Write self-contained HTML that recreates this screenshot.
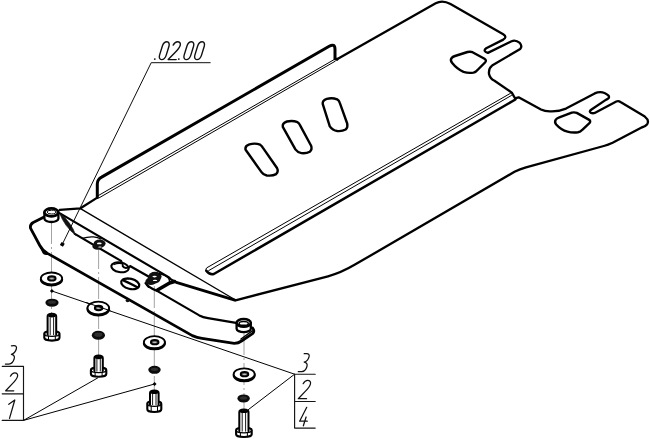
<!DOCTYPE html>
<html><head><meta charset="utf-8"><style>
html,body{margin:0;padding:0;background:#fff;width:650px;height:439px;overflow:hidden}
svg{display:block}
</style></head><body>
<svg width="650" height="439" viewBox="0 0 650 439">
<g fill="none" stroke="#000" stroke-linecap="round" stroke-linejoin="round">
<!-- centre lines (dash-dot, grey) -->
<g stroke="#999" stroke-width="0.9" stroke-dasharray="22 3 2 3" stroke-linecap="butt">
<line x1="51.5" y1="222" x2="51.5" y2="313"/>
<line x1="98.6" y1="247" x2="98.6" y2="355"/>
<line x1="154.3" y1="286" x2="154.3" y2="390"/>
<line x1="244" y1="333" x2="244" y2="409"/>
</g>

<!-- flange -->
<path stroke-width="3" d="M97.3,197.6 L97.3,184 Q97.3,179.4 101.6,177.1 L329.2,46.3 Q335,43 335,49.4 L335,58.9 L337,59.3"/>
<path stroke-width="1.0" d="M98.3,195.6 L334.8,59.2 M99,197.9 L335.2,61.2"/>

<!-- plate outline -->
<path stroke-width="2.3" d="M337,59.3 L435.7,3.3 Q442.5,-0.4 450.5,4.1 L503.2,34.3 Q507.6,37.2 503.3,39.6 L486.2,48.2 Q482.4,51 487.9,52.9 L511.6,41.2 Q515.5,39.4 519.8,42.9 Q522.6,46.2 520.2,49 L492.1,65.6 Q488.4,68.3 489,74 Q490,78.5 494.5,80.8 L511.8,92.6 L515,98.3 L518.6,97.3 L541,109.5 Q545.5,111.8 552,111.3 Q560,111.2 566,108.6 L594.7,93.4 Q600,91 604.5,93 Q610.2,95.6 608.7,98.1 Q607.8,99.2 605.8,99.9 L591.5,109.5 Q588.4,111.6 591,112.9 Q593,113.6 594.7,112.9 L616.3,101.5 Q618.5,100.6 620.5,102 L644.8,116.6 Q649.5,120.3 647.2,124.2 Q645.2,126.8 641.6,127.5 L612.6,142.8 Q608,145 603.8,146 L526,167.3 Q519.8,168.9 514.5,171.8 L355,264.6 Q341,272.9 328,276.3 L235.5,300.3"/>

<!-- bend line / rib -->
<path stroke-width="2.5" d="M515.4,99.5 L213.8,274 Q209.5,275 206.3,270.8"/>
<path stroke-width="1.0" d="M206.3,270.8 Q205.2,268.6 206.8,267.8 L510.5,93.3 M208.7,270.6 L511.5,95.4"/>

<!-- plate front edge -->
<path stroke-width="1.35" d="M80.5,208.7 L235.5,300"/>
<!-- flange left bottom -->
<path stroke-width="2.3" d="M97.3,197.6 L80.5,208.3 L59.8,209.9"/>

<!-- quad holes -->
<path stroke-width="2.4" d="M451.5,58.2 Q450,60.5 452.2,63 Q457,69 463.5,71.8 Q468,73.4 473.5,72.6 Q476,72 478,69.5 L485,62.5 Q487,60.3 484.5,58.8 L472.5,52.2 Q470.3,51.3 467.5,52 L455,56 Q452.5,56.8 451.5,58.2 Z"/>
<path stroke-width="2.4" d="M555.8,119.6 Q554.2,122 556.2,124.5 Q561,130 567.5,131.6 Q572,132.9 578,132.3 Q580.5,131.9 582.3,129.8 L589.4,123.2 Q591.3,121 588.8,119.6 L576.8,112.9 Q574.6,112 571.8,112.6 L559.3,117.3 Q556.8,118.2 555.8,119.6 Z"/>

<!-- slots -->
<path stroke-width="2.4" d="M245.6,149.8 Q244.6,146.0 249.4,144.4 Q255.2,142.8 260.1,144.7 Q261.8,145.7 262.8,147.6 L277.0,168.0 Q278.8,171.6 276.1,174.1 Q272.6,176.2 266.8,175.5 Q263.2,174.8 261.5,172.1 Z"/>
<path stroke-width="2.4" d="M282.8,126.8 Q282.1,123.1 286.9,121.5 Q292.7,120.2 297.5,122.2 Q299.2,123.3 300.1,125.4 L311.1,145.7 Q312.5,149.5 309.8,151.7 Q306.2,153.7 301.4,153.1 Q297.5,152.4 295.4,149.4 Z"/>
<path stroke-width="2.4" d="M322.7,103.9 Q322.3,100.3 326.8,98.9 Q332.1,97.5 337.2,99.4 Q339.1,100.3 339.8,102.9 L347.2,123.5 Q348.1,127.5 345.6,129.5 Q342.2,131.5 337.2,131.0 Q332.6,130.4 329.8,126.4 Z"/>

<!-- bracket -->
<g stroke-width="2.2">
<path stroke-width="2.8" d="M44.1,217.1 L33.2,222.5 Q29.6,224.6 30.6,228.4 L39.8,245.5 Q42.8,250.9 47,253.1 L192.3,335.6 Q197,337.6 202,338.4 L234.3,343.4 Q238.5,343.2 241.5,341 L252.5,333.6 Q255,331.3 252.6,328"/>
<path stroke-width="1.3" d="M240.9,339 L252.3,330.9"/>
<path d="M60,213.4 L168.6,277.1 Q170,278.1 171,279.4 L176.3,282.3"/>
<path stroke-width="2.8" d="M176.3,282.3 L234.8,300.1"/>
<path d="M74.8,233.9 L121,260.9"/>
<path d="M130.4,266.2 L149.4,277"/>
<path d="M145.5,283.2 Q148.3,287.5 156.6,290.6 L199.3,315.4 Q203,317.2 208,318.1 L236,322.8"/>
<path stroke-width="3.6" d="M157.5,290 L169.6,283 L174.5,281.6"/>
</g>
<!-- wedge -->
<ellipse cx="127.6" cy="300.6" rx="2" ry="1.6" fill="#111" stroke="none"/>
<path fill="#000" stroke="none" d="M40.2,246.2 Q41.2,251.8 43.6,254.3 Q45.8,255.8 49,254.4 L47,252.2 Q43.2,250.5 40.2,246.2 Z"/>
<path fill="#111" stroke="#111" stroke-width="0.6" d="M59.4,212.8 Q70.9,221.7 75.9,235.4 Q64.4,226.5 59.4,212.8 Z"/>
<!-- arc over hole -->
<path stroke-width="1.4" d="M82.3,238.4 Q88,236.5 93.5,236.9 Q98,237.3 100.8,239"/>

<!-- bracket holes -->
<g fill="#111" stroke="none">
<ellipse cx="99.6" cy="243.6" rx="6" ry="4.1"/>
<ellipse cx="97.4" cy="246.4" rx="5" ry="3.3"/>
</g>
<ellipse cx="99.3" cy="243.4" rx="2.4" ry="0.9" fill="#fff" stroke="none"/>
<ellipse cx="100" cy="247" rx="1.8" ry="0.6" fill="#fff" stroke="none"/>
<ellipse cx="120" cy="267.3" rx="8.8" ry="4.8" stroke-width="2.1" transform="rotate(10 120 267.3)"/>
<path stroke-width="2" d="M121,260.9 Q123,263 122.8,266.3 Q124.3,268.8 128.6,267.4 L130.4,266.2"/>
<path stroke-width="1.3" d="M114,264.5 Q118,262.8 121.5,263.6"/>
<ellipse cx="130.2" cy="283.8" rx="9.2" ry="5.1" stroke-width="2.2" transform="rotate(14 130.2 283.8)"/>
<path stroke-width="2.3" d="M123.8,280.6 Q130,283.2 137.4,287.3"/>
<path stroke-width="1.2" d="M124,279.6 Q126,278.6 128.5,279"/>
<path stroke-width="1.6" d="M147,282 Q146,284.5 148.5,287.2"/>
<g fill="#111" stroke="none">
<ellipse cx="155" cy="276.6" rx="6.6" ry="4.8"/>
<ellipse cx="150.8" cy="281.4" rx="5.4" ry="3.6"/>
<ellipse cx="154" cy="279" rx="6.5" ry="4.5"/>
</g>
<path stroke-width="1.4" d="M159.5,273.8 Q166,275.4 168.6,278.2 Q169.8,280.4 169.6,282.5"/>
<ellipse cx="154.6" cy="276.6" rx="2.2" ry="0.8" fill="#fff" stroke="none"/>
<ellipse cx="155" cy="280.4" rx="2.2" ry="0.7" fill="#fff" stroke="none"/>

<!-- cylinders -->
<g stroke-width="2.3">
<path d="M44.4,212.3 L44.4,218.8 A7,3.2 0 0 0 58.4,218.8 L58.4,212.3" fill="#fff"/>
<ellipse cx="51.4" cy="212.3" rx="7" ry="3.9" fill="#fff" stroke-width="2.6"/>
<ellipse cx="51.6" cy="212.1" rx="4.4" ry="1.9" stroke-width="1"/>
<path stroke-width="2" d="M45.8,214.9 Q51.4,217.9 57,214.9"/>
<path d="M236.6,322.8 L236.6,328.8 A7.1,3.3 0 0 0 250.8,328.8 L250.8,322.8" fill="#fff"/>
<ellipse cx="243.7" cy="322.8" rx="7.1" ry="3.9" fill="#fff" stroke-width="2.5"/>
<ellipse cx="243.7" cy="323.4" rx="4.6" ry="1.9" stroke-width="1.4"/>
</g>

<!-- leader .02.00 -->
<path stroke-width="0.95" d="M210.2,62.7 L151.2,62.7 L62.3,244.3"/>
<rect x="60.5" y="242.6" width="3.6" height="3.6" fill="#000" stroke="none" transform="rotate(30 62.3 244.4)"/>

<!-- dash lines -->
<path stroke-width="1" d="M51.9,291 L294.6,374.2"/>
<rect x="50.5" y="289.6" width="2.8" height="2.8" fill="#000" stroke="none" transform="rotate(45 51.9 291)"/>
<rect x="153.2" y="382.6" width="2.8" height="2.8" fill="#000" stroke="none" transform="rotate(45 154.6 384)"/>

<!-- label leaders -->
<path stroke-width="1" d="M23.5,420.4 L97.6,378 M23.5,420.4 L154.6,384 M248.4,409.6 L294.6,374.2"/>

<!-- label boxes -->
<path stroke-width="1.15" stroke="#151515" d="M2.2,366.3 L23.5,366.3 L23.5,420.4 M2.2,393.8 L23.5,393.8 M2.2,420.4 L23.5,420.4"/>
<path stroke-width="1.15" stroke="#151515" d="M294.6,374.2 L315.2,374.2 M294.6,374.2 L294.6,428.1 L315.2,428.1 M294.6,401.5 L315.2,401.5"/>

<ellipse cx="51.5" cy="279.5" rx="10.6" ry="5.9" stroke-width="2.1" fill="#fff"/><ellipse cx="51.5" cy="278.4" rx="10.6" ry="5.9" stroke-width="1.8" fill="#fff"/><ellipse cx="51.8" cy="278.4" rx="3.8" ry="2.2" stroke-width="1.9" fill="#666"/><ellipse cx="51.8" cy="278.6" rx="1.8" ry="0.7" fill="#bbb" stroke="none"/>
<ellipse cx="98.3" cy="309.1" rx="10.8" ry="6.4" stroke-width="2.1" fill="#fff"/><ellipse cx="98.3" cy="308.0" rx="10.8" ry="6.4" stroke-width="1.8" fill="#fff"/><ellipse cx="98.6" cy="308.0" rx="3.8" ry="2.2" stroke-width="1.9" fill="#666"/><ellipse cx="98.6" cy="308.2" rx="1.8" ry="0.7" fill="#bbb" stroke="none"/>
<ellipse cx="154.4" cy="343.3" rx="10.5" ry="6.0" stroke-width="2.1" fill="#fff"/><ellipse cx="154.4" cy="342.2" rx="10.5" ry="6.0" stroke-width="1.8" fill="#fff"/><ellipse cx="154.7" cy="342.2" rx="3.8" ry="2.2" stroke-width="1.9" fill="#666"/><ellipse cx="154.7" cy="342.4" rx="1.8" ry="0.7" fill="#bbb" stroke="none"/>
<ellipse cx="244.2" cy="375.3" rx="10.5" ry="5.9" stroke-width="2.1" fill="#fff"/><ellipse cx="244.2" cy="374.2" rx="10.5" ry="5.9" stroke-width="1.8" fill="#fff"/><ellipse cx="244.5" cy="374.2" rx="3.8" ry="2.2" stroke-width="1.9" fill="#666"/><ellipse cx="244.5" cy="374.4" rx="1.8" ry="0.7" fill="#bbb" stroke="none"/>
<path stroke-width="1" d="M86.5,302.6 L110.2,310.7"/>
<ellipse cx="52" cy="302.7" rx="6.6" ry="4.0" fill="#0c0c0c" stroke="none"/><ellipse cx="52" cy="302.2" rx="4" ry="1.6" fill="#2e2e2e" stroke="none"/>
<ellipse cx="98.4" cy="335.2" rx="6.6" ry="4.5" fill="#0c0c0c" stroke="none"/><ellipse cx="98.4" cy="334.7" rx="4" ry="2.1" fill="#2e2e2e" stroke="none"/>
<ellipse cx="154.5" cy="369.8" rx="6.2" ry="4.0" fill="#0c0c0c" stroke="none"/><ellipse cx="154.5" cy="369.3" rx="3.6" ry="1.6" fill="#2e2e2e" stroke="none"/>
<ellipse cx="243.6" cy="398.4" rx="6.2" ry="4.0" fill="#0c0c0c" stroke="none"/><ellipse cx="243.6" cy="397.9" rx="3.6" ry="1.6" fill="#2e2e2e" stroke="none"/>
<path stroke-width="2.1" fill="#fff" d="M44.3,333.7 L44.3,337.8 A7.6,2.8 0 0 0 59.5,337.8 L59.5,333.7 A7.6,2.6 0 0 0 44.3,333.7 Z"/>
<path stroke-width="1.3" d="M44.3,333.7 A7.6,2.6 0 0 0 59.5,333.7"/>
<path stroke-width="1.0" d="M48.5,336.0 L48.5,340.3 M55.3,336.0 L55.3,340.3"/>
<path stroke-width="2" fill="#fff" d="M47.6,334.7 L47.6,316.3 Q47.6,313.8 51.9,313.8 Q56.2,313.8 56.2,316.3 L56.2,334.7"/>
<ellipse cx="51.9" cy="315.8" rx="3.9" ry="1.6" fill="#000" stroke="none"/>
<path stroke-width="0.9" d="M50.2,317.6 L50.2,334.7 M53.6,317.6 L53.6,334.7"/>
<path stroke-width="2.1" fill="#fff" d="M90.9,370.0 L90.9,373.9 A7.7,2.8 0 0 0 106.3,373.9 L106.3,370.0 A7.7,2.6 0 0 0 90.9,370.0 Z"/>
<path stroke-width="1.3" d="M90.9,370.0 A7.7,2.6 0 0 0 106.3,370.0"/>
<path stroke-width="1.0" d="M95.1,372.3 L95.1,376.4 M102.1,372.3 L102.1,376.4"/>
<path stroke-width="2" fill="#fff" d="M94.4,371.0 L94.4,358.1 Q94.4,355.6 98.6,355.6 Q102.8,355.6 102.8,358.1 L102.8,371.0"/>
<ellipse cx="98.6" cy="357.6" rx="3.8" ry="1.6" fill="#000" stroke="none"/>
<path stroke-width="0.9" d="M96.9,359.4 L96.9,371.0 M100.3,359.4 L100.3,371.0"/>
<path stroke-width="2.1" fill="#fff" d="M147.3,403.7 L147.3,409.2 A7.0,2.8 0 0 0 161.3,409.2 L161.3,403.7 A7.0,2.6 0 0 0 147.3,403.7 Z"/>
<path stroke-width="1.3" d="M147.3,403.7 A7.0,2.6 0 0 0 161.3,403.7"/>
<path stroke-width="1.0" d="M151.2,406.0 L151.2,411.7 M157.5,406.0 L157.5,411.7"/>
<path stroke-width="2" fill="#fff" d="M150.0,404.7 L150.0,392.9 Q150.0,390.4 154.3,390.4 Q158.6,390.4 158.6,392.9 L158.6,404.7"/>
<ellipse cx="154.3" cy="392.4" rx="3.9" ry="1.6" fill="#000" stroke="none"/>
<path stroke-width="0.9" d="M152.6,394.2 L152.6,404.7 M156.0,394.2 L156.0,404.7"/>
<path stroke-width="2.1" fill="#fff" d="M236.1,430.2 L236.1,434.2 A7.8,2.8 0 0 0 251.7,434.2 L251.7,430.2 A7.8,2.6 0 0 0 236.1,430.2 Z"/>
<path stroke-width="1.3" d="M236.1,430.2 A7.8,2.6 0 0 0 251.7,430.2"/>
<path stroke-width="1.0" d="M240.4,432.5 L240.4,436.7 M247.4,432.5 L247.4,436.7"/>
<path stroke-width="2" fill="#fff" d="M239.3,431.2 L239.3,412.0 Q239.3,409.5 243.9,409.5 Q248.5,409.5 248.5,412.0 L248.5,431.2"/>
<ellipse cx="243.9" cy="411.5" rx="4.2" ry="1.6" fill="#000" stroke="none"/>
<path stroke-width="0.9" d="M242.2,413.3 L242.2,431.2 M245.6,413.3 L245.6,431.2"/>
<g stroke="#111">
<path vector-effect="non-scaling-stroke" transform="translate(5.40,364.1) skewX(-16) scale(0.6863,0.9150)" stroke-width="1.25" d="M1.1,-20 L4.5,-20.1 C7.5,-20.2 9.6,-19 9.6,-16.5 C9.6,-13.5 7.5,-11.2 4.7,-10.6 C8.5,-10.2 10.6,-8.5 10.6,-5.8 C10.6,-2.5 8.5,-0.2 5,-0.1 L0,0"/>
<path vector-effect="non-scaling-stroke" transform="translate(5.70,390.8) skewX(-16) scale(0.6712,0.8950)" stroke-width="1.25" d="M0.8,-16.3 C1.8,-19 3.8,-20 5.8,-20 C9,-20 11.5,-18.5 11.5,-15.8 C11.5,-13 9.5,-10.5 7,-8 L0,0 L12,0"/>
<path vector-effect="non-scaling-stroke" transform="translate(4.40,418.4) skewX(-16) scale(0.6900,0.9200)" stroke-width="1.25" d="M0.5,-15.3 L7.4,-20 L7.4,0"/>
<path vector-effect="non-scaling-stroke" transform="translate(298.30,371.7) skewX(-16) scale(0.6750,0.9000)" stroke-width="1.25" d="M1.1,-20 L4.5,-20.1 C7.5,-20.2 9.6,-19 9.6,-16.5 C9.6,-13.5 7.5,-11.2 4.7,-10.6 C8.5,-10.2 10.6,-8.5 10.6,-5.8 C10.6,-2.5 8.5,-0.2 5,-0.1 L0,0"/>
<path vector-effect="non-scaling-stroke" transform="translate(298.30,398.7) skewX(-16) scale(0.6900,0.9200)" stroke-width="1.25" d="M0.8,-16.3 C1.8,-19 3.8,-20 5.8,-20 C9,-20 11.5,-18.5 11.5,-15.8 C11.5,-13 9.5,-10.5 7,-8 L0,0 L12,0"/>
<path vector-effect="non-scaling-stroke" transform="translate(298.30,425.8) skewX(-16) scale(0.6938,0.9250)" stroke-width="1.25" d="M4.5,-20 L0,-5 L11,-5 M7.6,-9.5 L7.3,0"/>
<circle cx="154.80" cy="59.1" r="0.9" fill="#111" stroke="none"/>
<path vector-effect="non-scaling-stroke" transform="translate(158.20,59.6) skewX(-17) scale(0.6675,0.8900)" stroke-width="1.4" d="M0,-5 L0,-15 A5,5 0 0 1 10,-15 L10,-5 A5,5 0 0 1 0,-5 Z"/>
<path vector-effect="non-scaling-stroke" transform="translate(168.20,59.6) skewX(-17) scale(0.6675,0.8900)" stroke-width="1.4" d="M0.8,-16.3 C1.8,-19 3.8,-20 5.8,-20 C9,-20 11.5,-18.5 11.5,-15.8 C11.5,-13 9.5,-10.5 7,-8 L0,0 L12,0"/>
<circle cx="178.80" cy="59.1" r="0.9" fill="#111" stroke="none"/>
<path vector-effect="non-scaling-stroke" transform="translate(182.80,59.6) skewX(-17) scale(0.6675,0.8900)" stroke-width="1.4" d="M0,-5 L0,-15 A5,5 0 0 1 10,-15 L10,-5 A5,5 0 0 1 0,-5 Z"/>
<path vector-effect="non-scaling-stroke" transform="translate(193.50,59.6) skewX(-17) scale(0.6675,0.8900)" stroke-width="1.4" d="M0,-5 L0,-15 A5,5 0 0 1 10,-15 L10,-5 A5,5 0 0 1 0,-5 Z"/>
</g>
</g>
</svg>
</body></html>
